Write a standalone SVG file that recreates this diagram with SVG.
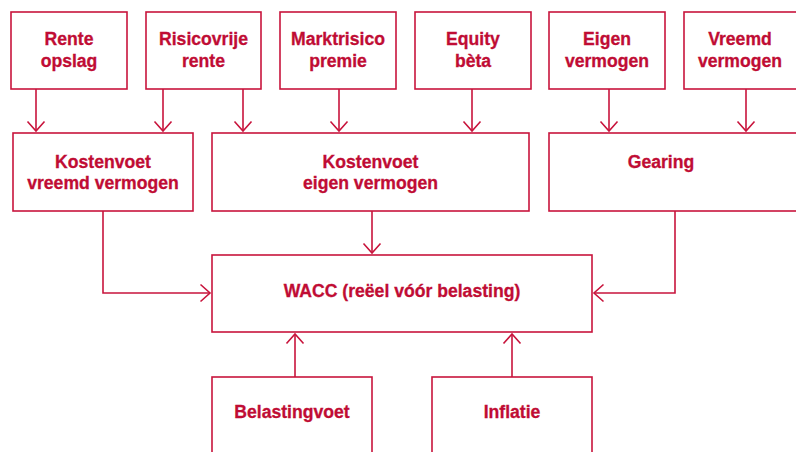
<svg xmlns="http://www.w3.org/2000/svg" width="796" height="452" viewBox="0 0 796 452">
<style>
.box{fill:#fff;stroke:#c8143c;stroke-width:1.6}
.t{font-family:"Liberation Sans",Arial,sans-serif;font-weight:bold;font-size:17.6px;fill:#c00c34;stroke:#c00c34;stroke-width:0.3;text-anchor:middle}
.c{fill:none;stroke:#c8143c;stroke-width:1.6}
</style>
<defs>
<marker id="ah" markerUnits="userSpaceOnUse" markerWidth="24" markerHeight="24" viewBox="-12 -12 24 24" refX="0" refY="0" orient="auto">
<path d="M-9.5,-8.5 L0,0 L-9.5,8.5" fill="none" stroke="#c8143c" stroke-width="1.6"/>
</marker>
</defs>
<rect width="796" height="452" fill="#fff"/>
<g id="connectors">
<path class="c" d="M36,89 V131" marker-end="url(#ah)"/>
<path class="c" d="M163,89 V131" marker-end="url(#ah)"/>
<path class="c" d="M243,89 V131" marker-end="url(#ah)"/>
<path class="c" d="M339,89 V131" marker-end="url(#ah)"/>
<path class="c" d="M472,89 V131" marker-end="url(#ah)"/>
<path class="c" d="M609,89 V131" marker-end="url(#ah)"/>
<path class="c" d="M746,89 V131" marker-end="url(#ah)"/>
<path class="c" d="M103,211 V293 H210" marker-end="url(#ah)"/>
<path class="c" d="M372,211 V253" marker-end="url(#ah)"/>
<path class="c" d="M675,211 V293 H594" marker-end="url(#ah)"/>
<path class="c" d="M295,377 V334" marker-end="url(#ah)"/>
<path class="c" d="M512,377 V334" marker-end="url(#ah)"/>
</g>
<g id="rente-opslag"><rect class="box" x="11" y="12" width="116" height="77"/><text class="t" x="69" y="44.5">Rente</text><text class="t" x="69" y="67">opslag</text></g>
<g id="risicovrije-rente"><rect class="box" x="146" y="12" width="115" height="77"/><text class="t" x="203.5" y="44.5">Risicovrije</text><text class="t" x="203.5" y="67">rente</text></g>
<g id="marktrisicopremie"><rect class="box" x="280" y="12" width="116" height="77"/><text class="t" x="338" y="44.5">Marktrisico</text><text class="t" x="338" y="67">premie</text></g>
<g id="equity-beta"><rect class="box" x="415" y="12" width="116" height="77"/><text class="t" x="473" y="44.5">Equity</text><text class="t" x="473" y="67">bèta</text></g>
<g id="eigen-vermogen"><rect class="box" x="549" y="12" width="116" height="77"/><text class="t" x="607" y="44.5">Eigen</text><text class="t" x="607" y="67">vermogen</text></g>
<g id="vreemd-vermogen"><rect class="box" x="684" y="12" width="118" height="77"/><text class="t" x="740" y="44.5">Vreemd</text><text class="t" x="740" y="67">vermogen</text></g>
<g id="kostenvoet-vv"><rect class="box" x="13" y="133" width="180" height="78"/><text class="t" x="103" y="167.5">Kostenvoet</text><text class="t" x="103" y="189">vreemd vermogen</text></g>
<g id="kostenvoet-ev"><rect class="box" x="212" y="133" width="317" height="78"/><text class="t" x="370.5" y="167.5">Kostenvoet</text><text class="t" x="370.5" y="189">eigen vermogen</text></g>
<g id="gearing"><rect class="box" x="549" y="133" width="252" height="78"/><text class="t" x="661" y="167.5">Gearing</text></g>
<g id="wacc"><rect class="box" x="212" y="255" width="380" height="77"/><text class="t" x="402" y="297">WACC (reëel vóór belasting)</text></g>
<g id="belastingvoet"><rect class="box" x="212" y="377" width="160" height="80"/><text class="t" x="292" y="418">Belastingvoet</text></g>
<g id="inflatie"><rect class="box" x="432" y="377" width="160" height="80"/><text class="t" x="512" y="418">Inflatie</text></g>
</svg>
